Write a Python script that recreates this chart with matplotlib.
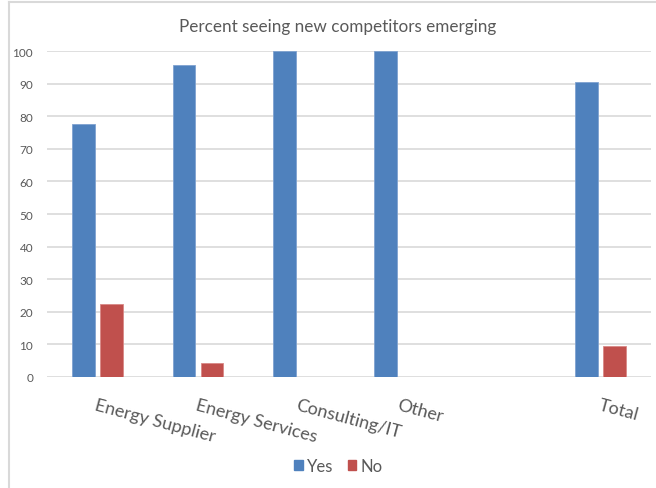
import matplotlib
matplotlib.use("Agg")
import matplotlib.pyplot as plt
import numpy as np
from matplotlib.patches import Rectangle
from matplotlib.lines import Line2D

categories = ["Energy Supplier", "Energy Services", "Consulting/IT", "Other", "", "Total"]
yes_values = [77.8, 95.8, 100, 100, np.nan, 90.7]
no_values = [22.2, 4.2, 0, 0, np.nan, 9.3]
y_ticks = [0, 10, 20, 30, 40, 50, 60, 70, 80, 90, 100]
title = "Percent seeing new competitors emerging"

plt.rcParams['font.family'] = ['Lato', 'DejaVu Sans']
TXT = "#595959"
BLUE = "#4F81BD"
RED = "#C0504D"

W, H = 656, 489
fig = plt.figure(figsize=(W / 100, H / 100), dpi=100)
ax = fig.add_axes([47 / W, 1 - 377.7 / H, 604 / W, 325.4 / H])

x = np.arange(len(categories))
bw = 0.225
ax.bar(x - 0.14, yes_values, width=bw, color=BLUE, edgecolor="#7FA2D0", linewidth=0.6, zorder=3, label="Yes")
ax.bar(x + 0.14, no_values, width=bw, color=RED, edgecolor="#D98886", linewidth=0.6, zorder=3, label="No")

ax.set_xlim(-0.5, len(categories) - 0.5)
ax.set_ylim(0, 100)
ax.set_yticks(y_ticks)
ax.set_yticklabels([str(v) for v in y_ticks])
ax.tick_params(axis='y', length=0, pad=10, labelsize=8.5, labelcolor=TXT)
ax.set_xticks([])
ax.yaxis.grid(True, color="#D9D9D9", linewidth=1.2, zorder=0)
ax.set_axisbelow(True)
for s in ax.spines.values():
    s.set_visible(False)

for i, lab in enumerate(categories):
    ax.annotate(lab, xy=(i, 0), xycoords='data', xytext=(0, -20), textcoords='offset pixels',
                rotation=-15, rotation_mode='anchor', ha='left', va='top',
                fontsize=13, color=TXT, annotation_clip=False)

fig.text(337.5 / W, 1 - 27 / H, title, ha='center', va='center', fontsize=12.3, color=TXT)

handles = [Rectangle((0, 0), 1, 1, color=BLUE), Rectangle((0, 0), 1, 1, color=RED)]
fig.legend(handles, ["Yes", "No"], loc='center', bbox_to_anchor=(338.5 / W, 1 - 467 / H),
           ncol=2, frameon=False, fontsize=12, labelcolor=TXT, handlelength=0.5, handleheight=0.5,
           handletextpad=0.25, columnspacing=0.9)

# chart border (top and left visible)
fig.add_artist(Line2D([9 / W, 1], [1 - 3 / H, 1 - 3 / H], color="#D9D9D9", linewidth=1.5, transform=fig.transFigure))
fig.add_artist(Line2D([9 / W, 9 / W], [0, 1 - 3 / H], color="#D9D9D9", linewidth=1.5, transform=fig.transFigure))

fig.savefig("out.png", dpi=100, facecolor="white")
